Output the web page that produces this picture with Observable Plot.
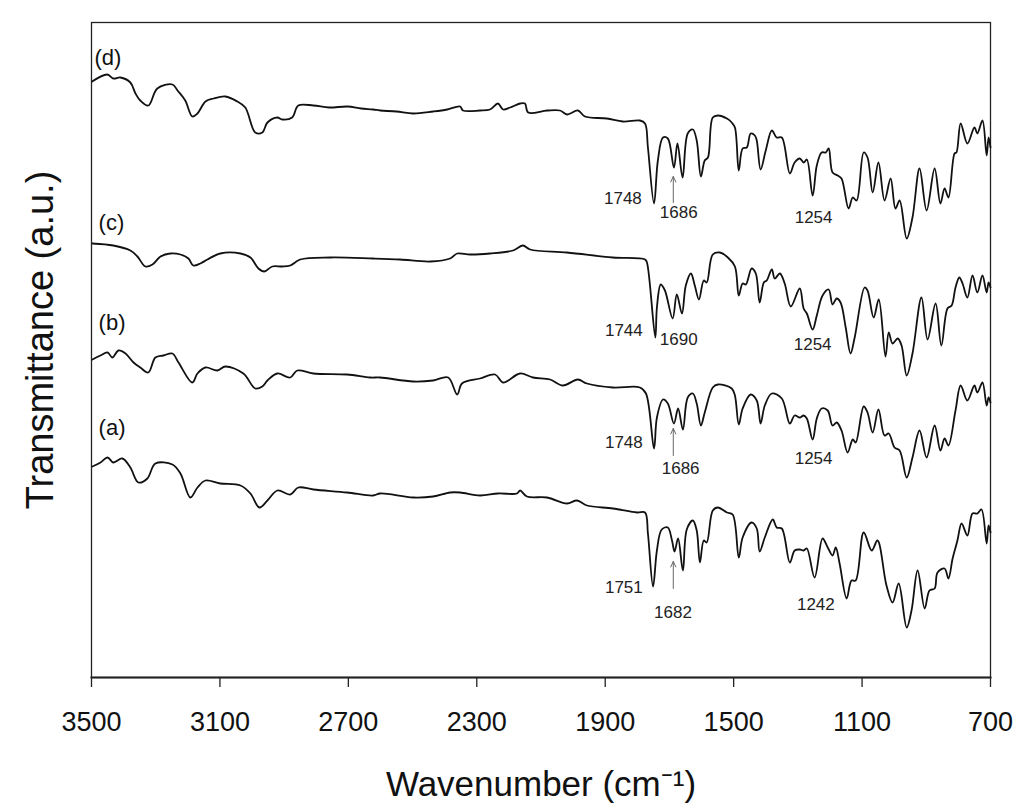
<!DOCTYPE html>
<html>
<head>
<meta charset="utf-8">
<script src="https://cdn.jsdelivr.net/npm/d3@7"></script>
<script src="https://cdn.jsdelivr.net/npm/@observablehq/plot@0.6"></script>
<style>
  html, body { margin: 0; padding: 0; background: #fff; }
  #chart { width: 1024px; height: 810px; }
</style>
</head>
<body>
<div id="chart"></div>
<script>
// ---- data: [wavenumber (cm-1), transmittance (a.u., offset stacked)] ----
const traceD = [[3498,5.96],[3451,6.03],[3432,5.99],[3410,6.00],[3379,5.95],[3363,5.84],[3348,5.77],[3323,5.72],[3295,5.89],[3248,5.93],[3232,5.87],[3208,5.77],[3186,5.61],[3170,5.64],[3145,5.76],[3120,5.79],[3083,5.81],[3046,5.76],[3021,5.70],[2990,5.45],[2968,5.45],[2952,5.55],[2921,5.60],[2906,5.58],[2875,5.60],[2856,5.72],[2809,5.72],[2760,5.70],[2703,5.71],[2660,5.69],[2623,5.68],[2601,5.67],[2550,5.66],[2498,5.64],[2436,5.66],[2392,5.68],[2352,5.71],[2343,5.67],[2290,5.67],[2259,5.68],[2234,5.74],[2218,5.68],[2196,5.70],[2165,5.74],[2150,5.74],[2140,5.65],[2081,5.67],[2041,5.67],[2019,5.63],[1985,5.67],[1963,5.61],[1895,5.59],[1845,5.56],[1792,5.57],[1776,5.54],[1767,5.30],[1748,4.74],[1736,5.17],[1720,5.40],[1705,5.39],[1686,5.10],[1675,5.34],[1659,5.00],[1643,5.44],[1627,5.48],[1615,5.37],[1602,5.01],[1590,5.17],[1580,5.20],[1565,5.60],[1549,5.62],[1521,5.59],[1506,5.55],[1496,5.50],[1484,5.07],[1472,5.29],[1459,5.30],[1447,5.44],[1434,5.42],[1428,5.37],[1416,5.08],[1400,5.27],[1381,5.47],[1366,5.40],[1350,5.40],[1325,5.04],[1310,5.15],[1294,5.19],[1282,5.15],[1272,5.18],[1254,4.82],[1241,5.12],[1226,5.25],[1213,5.25],[1204,5.29],[1192,5.05],[1176,5.02],[1164,4.99],[1142,4.69],[1129,4.80],[1117,4.77],[1095,5.25],[1083,5.20],[1067,4.85],[1049,5.15],[1030,4.77],[1011,4.99],[996,4.69],[983,4.77],[961,4.39],[943,4.60],[921,5.09],[899,4.67],[874,5.09],[856,4.74],[843,4.89],[831,4.80],[812,5.24],[806,5.25],[793,5.54],[772,5.34],[750,5.50],[741,5.44],[725,5.57],[712,5.22],[706,5.40],[700,5.30]];

const traceC = [[3497,4.34],[3432,4.32],[3379,4.27],[3357,4.21],[3332,4.11],[3310,4.13],[3285,4.21],[3254,4.24],[3223,4.23],[3198,4.19],[3183,4.12],[3161,4.14],[3139,4.18],[3099,4.24],[3036,4.24],[3005,4.20],[2980,4.09],[2962,4.06],[2937,4.11],[2906,4.11],[2881,4.12],[2850,4.18],[2756,4.20],[2623,4.19],[2539,4.18],[2445,4.16],[2383,4.19],[2361,4.24],[2321,4.23],[2259,4.24],[2187,4.27],[2156,4.32],[2134,4.28],[2019,4.25],[1876,4.20],[1776,4.18],[1770,4.15],[1744,3.40],[1739,3.70],[1727,3.93],[1714,3.87],[1690,3.59],[1677,3.83],[1661,3.64],[1649,3.92],[1633,4.04],[1621,3.92],[1608,3.78],[1593,3.97],[1584,3.95],[1565,4.23],[1543,4.25],[1518,4.20],[1496,4.11],[1484,3.82],[1472,3.94],[1462,3.93],[1444,4.09],[1431,4.04],[1419,3.75],[1406,3.95],[1397,3.97],[1381,4.08],[1372,3.99],[1356,4.04],[1341,3.94],[1322,3.71],[1294,3.89],[1282,3.69],[1272,3.64],[1254,3.48],[1241,3.62],[1223,3.82],[1204,3.88],[1192,3.73],[1179,3.79],[1167,3.75],[1151,3.50],[1136,3.24],[1123,3.40],[1092,3.90],[1083,3.87],[1064,3.60],[1048,3.78],[1027,3.21],[1017,3.45],[1005,3.34],[989,3.39],[977,3.32],[961,3.02],[943,3.24],[915,3.80],[896,3.38],[871,3.74],[853,3.32],[834,3.69],[821,3.72],[809,3.90],[797,4.00],[787,3.94],[772,3.80],[756,4.02],[741,3.85],[725,4.02],[712,3.85],[706,3.95],[700,3.90]];

const traceB = [[3497,3.18],[3472,3.22],[3450,3.25],[3435,3.20],[3416,3.27],[3394,3.24],[3369,3.15],[3348,3.10],[3323,3.05],[3301,3.20],[3276,3.22],[3248,3.24],[3229,3.15],[3186,2.95],[3170,3.04],[3145,3.10],[3108,3.07],[3083,3.11],[3027,3.04],[2990,2.89],[2968,2.91],[2952,2.97],[2921,3.04],[2881,3.00],[2859,3.07],[2809,3.04],[2704,3.03],[2632,3.00],[2601,3.00],[2498,2.96],[2436,2.97],[2389,3.00],[2361,2.83],[2346,2.94],[2290,2.99],[2243,3.03],[2218,2.95],[2165,3.04],[2125,3.00],[2072,2.98],[2032,2.92],[1985,2.98],[1957,2.94],[1876,2.90],[1792,2.90],[1773,2.84],[1748,2.29],[1739,2.60],[1720,2.78],[1705,2.74],[1686,2.54],[1673,2.69],[1658,2.48],[1643,2.80],[1627,2.84],[1615,2.74],[1602,2.52],[1590,2.65],[1565,2.90],[1549,2.93],[1506,2.89],[1496,2.82],[1484,2.53],[1472,2.69],[1447,2.83],[1428,2.77],[1416,2.54],[1403,2.72],[1381,2.84],[1350,2.79],[1325,2.54],[1310,2.62],[1294,2.60],[1282,2.62],[1272,2.59],[1254,2.38],[1241,2.59],[1226,2.69],[1207,2.67],[1192,2.52],[1179,2.55],[1164,2.47],[1145,2.25],[1129,2.38],[1120,2.35],[1095,2.71],[1083,2.65],[1067,2.45],[1049,2.68],[1030,2.42],[1017,2.44],[999,2.30],[983,2.27],[961,2.00],[943,2.20],[921,2.47],[899,2.20],[874,2.52],[856,2.27],[843,2.39],[831,2.32],[809,2.67],[793,2.92],[772,2.77],[750,2.92],[741,2.85],[725,2.95],[712,2.72],[706,2.80],[700,2.75]];

const traceA = [[3497,2.11],[3472,2.15],[3450,2.20],[3432,2.15],[3404,2.19],[3379,2.10],[3354,1.95],[3326,1.99],[3301,2.14],[3248,2.13],[3223,2.04],[3192,1.80],[3170,1.90],[3145,1.97],[3099,1.94],[3036,1.92],[3005,1.84],[2977,1.70],[2952,1.77],[2921,1.87],[2881,1.83],[2856,1.90],[2809,1.88],[2704,1.85],[2623,1.82],[2601,1.84],[2498,1.80],[2436,1.81],[2383,1.85],[2352,1.85],[2290,1.82],[2234,1.84],[2175,1.84],[2165,1.87],[2144,1.81],[2081,1.80],[2019,1.74],[1988,1.77],[1957,1.72],[1876,1.69],[1801,1.65],[1776,1.65],[1767,1.44],[1751,0.91],[1739,1.27],[1724,1.48],[1705,1.50],[1692,1.37],[1684,1.26],[1673,1.39],[1658,1.07],[1646,1.48],[1627,1.57],[1615,1.47],[1605,1.15],[1593,1.37],[1584,1.35],[1565,1.67],[1549,1.70],[1521,1.65],[1503,1.63],[1484,1.20],[1472,1.40],[1444,1.55],[1428,1.49],[1419,1.26],[1403,1.40],[1378,1.58],[1366,1.50],[1350,1.49],[1325,1.15],[1310,1.27],[1294,1.28],[1282,1.27],[1272,1.29],[1248,1.00],[1223,1.39],[1207,1.30],[1192,1.22],[1182,1.30],[1170,1.14],[1148,0.79],[1133,0.97],[1120,0.97],[1095,1.45],[1070,1.27],[1052,1.37],[1024,0.92],[1005,0.75],[986,0.94],[961,0.50],[946,0.67],[927,1.07],[905,0.69],[890,0.87],[874,0.89],[865,1.05],[843,1.09],[831,0.99],[818,1.19],[803,1.37],[790,1.54],[772,1.42],[756,1.64],[741,1.64],[728,1.68],[712,1.34],[706,1.52],[700,1.45]];

const seriesNames = ["(a)", "(b)", "(c)", "(d)"];
const seriesLabelW = [3478, 3478, 3478, 3491];
const seriesLabelT = [2.50, 3.55, 4.55, 6.20];

const peakLabels = ["1748","1686","1254","1744","1690","1254","1748","1686","1254","1751","1682","1242"];
const peakW      = [1786, 1671, 1251, 1783, 1671, 1254, 1783, 1665, 1251, 1783, 1689, 1244];
const peakT      = [4.79, 4.65, 4.60, 3.47, 3.38, 3.33, 2.35, 2.09, 2.19, 0.90, 0.65, 0.73];
const peakAnchor = ["end","middle","middle","end","middle","middle","end","middle","middle","end","middle","middle"];

const arrowW  = [1688, 1688, 1688];
const arrowT1 = [4.75, 2.22, 0.89];
const arrowT2 = [5.01, 2.49, 1.16];

const xTicks = [3500, 3100, 2700, 2300, 1900, 1500, 1100, 700];
const xTitle = "Wavenumber (cm\u207B\u00B9)";
const yTitle = "Transmittance (a.u.)";

// ---- build tables ----
const traces = [traceA, traceB, traceC, traceD];
const lineData = traces.flatMap((t, i) => t.map(([w, v]) => ({series: seriesNames[i], w, v})));
const seriesLabelData = seriesNames.map((s, i) => ({s, w: seriesLabelW[i], v: seriesLabelT[i]}));
const peakData = peakLabels.map((l, i) => ({l, w: peakW[i], v: peakT[i], a: peakAnchor[i]}));
const arrowData = arrowW.map((w, i) => ({w, v1: arrowT1[i], v2: arrowT2[i]}));

const font = "'Liberation Sans', Arial, Helvetica, sans-serif";

const chart = Plot.plot({
  width: 1024,
  height: 810,
  marginLeft: 91,
  marginRight: 34,
  marginTop: 22,
  marginBottom: 133,
  style: {fontFamily: font, background: "#fff", color: "#111", overflow: "visible"},
  x: {domain: [3500, 700]},
  y: {domain: [0, 6.55], axis: null},
  marks: [
    Plot.frame({stroke: "#222", strokeWidth: 1.3}),
    Plot.frame({anchor: "bottom", stroke: "#222", strokeWidth: 2}),
    Plot.axisX({ticks: xTicks, tickSize: 10, tickPadding: 24, fontSize: 27, tickFormat: d => String(d), label: null, stroke: "#222", strokeWidth: 1.3}),
    Plot.line(lineData, {x: "w", y: "v", z: "series", stroke: "#111", strokeWidth: 1.8, strokeLinejoin: "round", curve: "catmull-rom"}),
    Plot.text(seriesLabelData, {x: "w", y: "v", text: "s", textAnchor: "start", fontSize: 22, fill: "#111"}),
    Plot.text(peakData.filter(d => d.a === "end"), {x: "w", y: "v", text: "l", textAnchor: "end", fontSize: 17, fill: "#222"}),
    Plot.text(peakData.filter(d => d.a === "middle"), {x: "w", y: "v", text: "l", textAnchor: "middle", fontSize: 17, fill: "#222"}),
    Plot.arrow(arrowData, {x1: "w", x2: "w", y1: "v1", y2: "v2", stroke: "#666", strokeWidth: 1, headLength: 9, headAngle: 50}),
    Plot.text([xTitle], {frameAnchor: "bottom", lineAnchor: "middle", textAnchor: "middle", dy: 107, fontSize: 35, fill: "#111"}),
    Plot.text([yTitle], {frameAnchor: "left", lineAnchor: "middle", textAnchor: "middle", rotate: -90, dx: -51, dy: -10, fontSize: 38, fill: "#111"})
  ]
});
document.getElementById("chart").appendChild(chart);
</script>
</body>
</html>
